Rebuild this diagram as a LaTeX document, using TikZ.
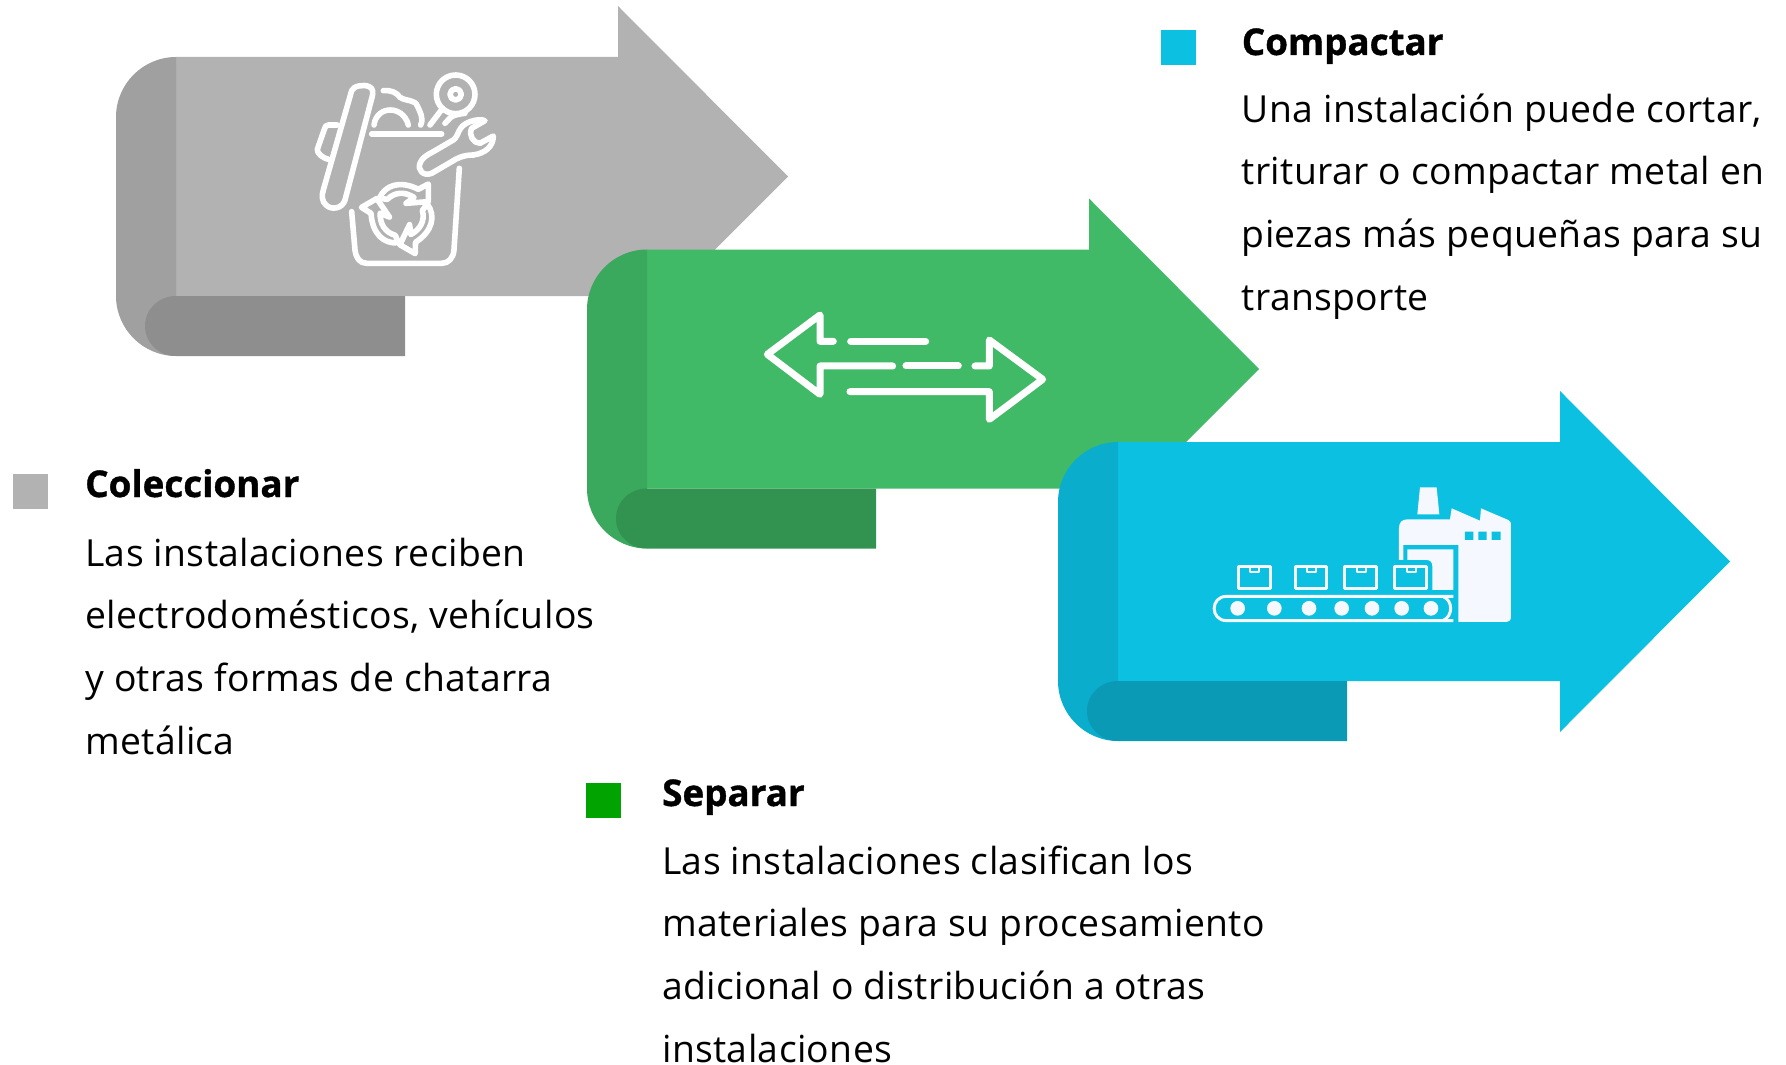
\documentclass[tikz,border=0pt]{standalone}
\usepackage{fontspec}
\setmainfont{Open Sans}[LetterSpace=1.0]
\newfontfamily\headfont{Open Sans}[BoldFeatures={FakeBold=1.0}]
\definecolor{grayA}{HTML}{B2B2B2}\definecolor{grayB}{HTML}{A0A0A0}\definecolor{grayC}{HTML}{8E8E8E}
\definecolor{greenA}{HTML}{40BA67}\definecolor{greenB}{HTML}{3AA85D}\definecolor{greenC}{HTML}{329350}
\definecolor{blueA}{HTML}{0CC0E2}\definecolor{blueB}{HTML}{0BADCC}\definecolor{blueC}{HTML}{0A9AB5}
\definecolor{squareGreen}{HTML}{00A300}\definecolor{facWhite}{HTML}{F6F8FF}
\newcommand{\bigarrow}[5]{%
 \begin{scope}[shift={(#1,#2)}]
  \fill[#3] (176,57) -- (618,57) -- (618,6) -- (788,176.5) -- (618,347) -- (618,296) -- (176,296) -- cycle;
  \fill[#4] (176,57) .. controls (143,57) and (116,84) .. (116,117) -- (116,296) .. controls (116,329) and (143,356) .. (176,356) -- cycle;
  \fill[#5] (176,296) -- (405,296) -- (405,356) -- (176,356) .. controls (159,356) and (145,343) .. (145,326) .. controls (145,309) and (159,296) .. (176,296) -- cycle;
 \end{scope}}
\tikzset{
 heading/.style={anchor=base west,inner sep=0pt,font=\fontsize{36.8}{36.8}\selectfont\headfont\bfseries},
 bodytext/.style={anchor=north west,inner sep=0pt,align=left,font=\fontsize{37.3}{62.6}\selectfont},
 legendsq/.style={anchor=north west,inner sep=0pt,minimum width=35pt,minimum height=35pt},
 iconline/.style={draw=white,line cap=round,line join=round,fill=none},
 boxicon/.style={draw=facWhite,line width=3pt,line join=round,fill=none},
}
\newcommand{\strt}{\rule{0pt}{32pt}}
\begin{document}
\begin{tikzpicture}[x=1pt,y=-1pt]
\useasboundingbox (0,0) rectangle (1786,1065);
\bigarrow{0}{0}{grayA}{grayB}{grayC}
\bigarrow{471}{192.5}{greenA}{greenB}{greenC}
\bigarrow{942}{385}{blueA}{blueB}{blueC}

% collect icon
\begin{scope}[shift={(300,60)},x=0.3333pt,y=-0.3333pt,iconline,line width=5.6pt]
 \draw (155,92) .. controls (160,78) and (190,72) .. (208,80) .. controls (220,85) and (220,100) .. (216,112) -- (135,420) .. controls (128,445) and (95,452) .. (78,435) .. controls (65,425) and (65,405) .. (70,390) -- cycle;
 \draw (112,195) -- (85,195) .. controls (78,195) and (75,200) .. (73,208) -- (52,268) .. controls (50,280) and (70,295) .. (85,298);
 \draw (155,455) -- (165,570) .. controls (168,595) and (180,610) .. (200,610) -- (425,610) .. controls (445,610) and (460,595) .. (462,570) -- (478,325);
 \draw (215,222) -- (425,222);
 \draw (222,195) .. controls (230,135) and (310,135) .. (325,195);
 \draw (250,92) .. controls (275,90) and (290,98) .. (300,112) .. controls (320,125) and (345,118) .. (352,138) .. controls (360,155) and (372,175) .. (362,195);
 \draw (467,103) circle (58);
 \draw (467,103) circle (17);
 \draw (390,195) -- (428,145);
 \draw (435,190) .. controls (450,178) and (445,165) .. (495,160);
 \draw (360,310) .. controls (365,295) and (380,285) .. (400,275) -- (460,240) .. controls (480,225) and (470,200) .. (510,185) .. controls (530,178) and (545,178) .. (555,182) -- (515,205) .. controls (505,225) and (520,250) .. (540,250) -- (580,228) .. controls (580,260) and (555,280) .. (520,285) .. controls (490,285) and (470,295) .. (455,305) -- (395,340) .. controls (370,350) and (352,330) .. (360,310) -- cycle;
 \foreach \a in {0,120,240}{
  \draw[rotate around={\a:(305,465)}] (238,415) .. controls (255,375) and (300,360) .. (355,388) -- (385,372) -- (385,425) -- (318,430) -- (342,412) .. controls (315,395) and (285,395) .. (262,418) -- cycle;
 }
\end{scope}

% separate icon
\begin{scope}[shift={(750,300)},x=0.3333pt,y=-0.3333pt,iconline,line width=7pt]
 \draw (250,124) -- (210,124) -- (210,45) -- (52,163) -- (210,283) -- (210,198) -- (428,198);
 \draw (302,124) -- (527,124);
 \draw (468,198) -- (625,198);
 \draw (675,198) -- (718,198) -- (718,120) -- (878,238) -- (718,358) -- (718,275) -- (300,275);
\end{scope}

% compact icon
\begin{scope}[shift={(1200,480)},x=0.3333pt,y=-0.3333pt]
 \fill[facWhite] (660,22) -- (710,22) -- (718,103) -- (652,103) -- cycle;
 \fill[facWhite] (597,240) -- (597,145) .. controls (597,128) and (605,118) .. (622,118) -- (750,118) -- (755,85) -- (840,122) -- (843,85) -- (925,120) .. controls (932,123) and (933,128) .. (933,135) -- (933,410) .. controls (933,420) and (928,426) .. (920,426) -- (775,426) -- (775,195) -- (610,195) -- (610,240) -- cycle;
 \fill[facWhite] (622,208) -- (760,208) -- (760,330) -- (697,330) -- (697,258) .. controls (697,246) and (690,240) .. (680,240) -- (622,240) -- cycle;
 \fill[blueA] (795,155) rectangle (820,180) (835,155) rectangle (860,180) (875,155) rectangle (902,180);
 \foreach \bx in {115,285,435,585}{
  \draw[boxicon] (\bx,260) rectangle ++(95,66);
  \draw[boxicon,line width=2.2pt] (\bx+36,260) -- (\bx+36,275) -- (\bx+62,275) -- (\bx+62,260);
 }
 \draw[boxicon] (760,349) -- (80,349) .. controls (30,349) and (30,422) .. (80,422) -- (760,422);
 \draw[boxicon] (728,349) .. controls (760,360) and (760,410) .. (728,422);
 \foreach \cx in {113,223,327,425,516,605,693}{
  \fill[facWhite] (\cx,385) circle (22);
 }
\end{scope}

% legend
\node[legendsq,fill=blueA] (sqC) at (1161,30) {};
\node[heading] (hC) at (1241.6,55) {Compactar};
\node[bodytext] (tC) at (1241.6,90) {\strt Una instalación puede cortar,\\triturar o compactar metal en\\piezas más pequeñas para su\\transporte};

\node[legendsq,fill=grayA] (sqA) at (13,474) {};
\node[heading] (hA) at (85,497) {Coleccionar};
\node[bodytext] (tA) at (85,534) {\strt Las instalaciones reciben\\electrodomésticos, vehículos\\y otras formas de chatarra\\metálica};

\node[legendsq,fill=squareGreen] (sqB) at (586,783) {};
\node[heading] (hB) at (662,806) {Separar};
\node[bodytext] (tB) at (662,842) {\strt Las instalaciones clasifican los\\materiales para su procesamiento\\adicional o distribución a otras\\instalaciones};
\end{tikzpicture}
\end{document}
